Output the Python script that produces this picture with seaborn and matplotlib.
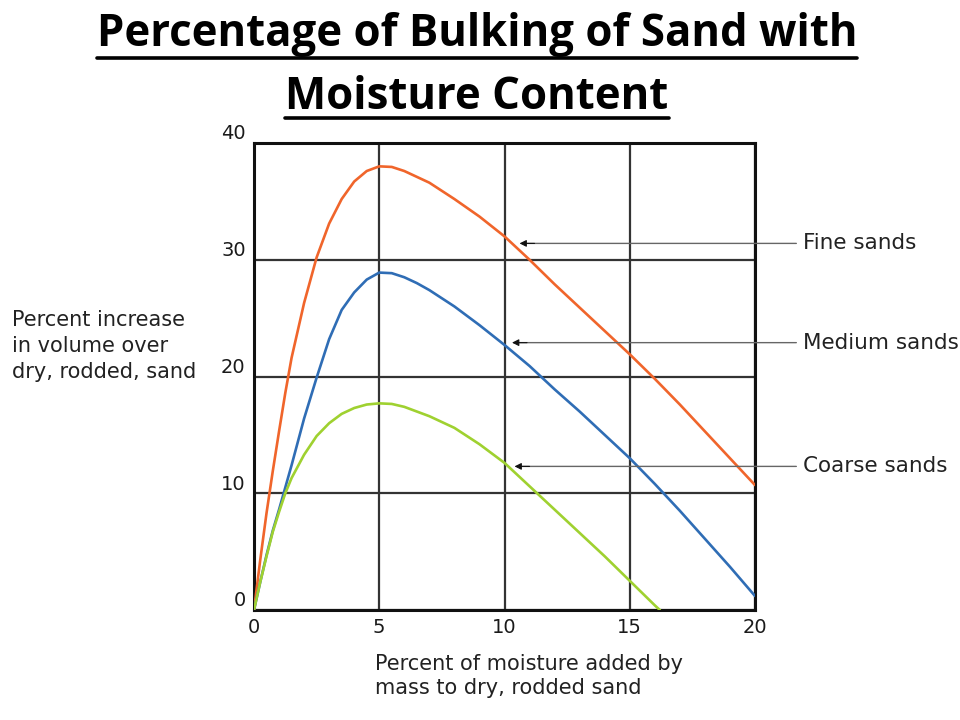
import numpy as np
import pandas as pd
import matplotlib
matplotlib.use("Agg")
import matplotlib.pyplot as plt
from matplotlib.lines import Line2D
import matplotlib.transforms as mtransforms
import seaborn as sns

# ---------------- data ----------------
moisture_fine = [0, 0.25, 0.5, 0.75, 1, 1.25, 1.5, 2, 2.5, 3, 3.5, 4, 4.5, 5, 5.5, 6, 6.5, 7, 8, 9,
                 10, 11, 12, 13, 14, 15, 16, 17, 18, 19, 20]
bulking_fine = [0, 4.3, 8.3, 11.9, 15.3, 18.6, 21.6, 26.3, 30.2, 33.1, 35.2, 36.7, 37.6, 38.0, 37.95,
                37.6, 37.1, 36.6, 35.2, 33.7, 32.0, 30.0, 27.9, 25.9, 23.9, 21.9, 19.8, 17.6, 15.3, 13.0, 10.7]

moisture_medium = [0, 0.25, 0.5, 0.75, 1, 1.25, 1.5, 2, 2.5, 3, 3.5, 4, 4.5, 5, 5.5, 6, 6.5, 7, 8, 9,
                   10, 11, 12, 13, 14, 15, 16, 17, 18, 19, 20]
bulking_medium = [0, 2.4, 4.7, 6.8, 8.6, 10.5, 12.4, 16.4, 19.9, 23.2, 25.7, 27.2, 28.3, 28.9, 28.85,
                  28.5, 28.0, 27.4, 26.0, 24.4, 22.7, 20.9, 18.9, 17.0, 15.0, 13.0, 10.8, 8.5, 6.1, 3.7, 1.2]

moisture_coarse = [0, 0.25, 0.5, 0.75, 1, 1.25, 1.5, 2, 2.5, 3, 3.5, 4, 4.5, 5, 5.5, 6, 6.5, 7, 8, 9,
                   10, 11, 12, 13, 14, 15, 16, 16.2]
bulking_coarse = [0, 2.4, 4.6, 6.7, 8.4, 10.0, 11.3, 13.3, 14.9, 16.0, 16.8, 17.3, 17.6, 17.7, 17.65,
                  17.4, 17.0, 16.6, 15.6, 14.2, 12.6, 10.6, 8.6, 6.6, 4.6, 2.5, 0.4, 0]

series_names = ["Fine sands", "Medium sands", "Coarse sands"]
x_ticks = [0, 5, 10, 15, 20]
y_ticks = [0, 10, 20, 30, 40]

title_lines = ["Percentage of Bulking of Sand with", "Moisture Content"]
y_label = "Percent increase\nin volume over\ndry, rodded, sand"
x_label = "Percent of moisture added by\nmass to dry, rodded sand"

# ---------------- build table ----------------
df = pd.concat([
    pd.DataFrame({"moisture": moisture_fine, "bulking": bulking_fine, "sand": series_names[0]}),
    pd.DataFrame({"moisture": moisture_medium, "bulking": bulking_medium, "sand": series_names[1]}),
    pd.DataFrame({"moisture": moisture_coarse, "bulking": bulking_coarse, "sand": series_names[2]}),
], ignore_index=True)

colors = {"Fine sands": "#F0652B", "Medium sands": "#2F6DB5", "Coarse sands": "#9FD130"}

sns.set_theme(style="white")
plt.rcParams["font.family"] = ["DejaVu Sans"]

fig = plt.figure(figsize=(9.6, 7.2), dpi=100)
ax = fig.add_axes([254 / 960, 1 - 610 / 720, (755 - 254) / 960, (610 - 143) / 720])

sns.lineplot(data=df, x="moisture", y="bulking", hue="sand", palette=colors,
             sort=False, estimator=None, linewidth=1.9, legend=False, ax=ax, zorder=3)

ax.set_xlim(0, 20)
ax.set_ylim(0, 40)
ax.set_xticks(x_ticks)
ax.set_yticks(y_ticks)
ax.set_xticklabels([str(v) for v in x_ticks], fontsize=14, color="#1a1a1a")
ax.set_yticklabels([str(v) for v in y_ticks], fontsize=14, color="#1a1a1a")
ax.tick_params(axis="both", length=0, pad=6)
ax.set_xlabel("")
ax.set_ylabel("")
# y tick labels sit slightly above their gridlines
offset = mtransforms.ScaledTranslation(0, 8 / 72, fig.dpi_scale_trans)
for lbl in ax.get_yticklabels():
    lbl.set_transform(lbl.get_transform() + offset)

ax.grid(True, color="#333333", linewidth=1.6)
ax.set_axisbelow(True)
for sp in ax.spines.values():
    sp.set_visible(True)
    sp.set_color("#111111")
    sp.set_linewidth(2.2)

# annotations with arrows: gray leader line + small black arrowhead
label_y = {"Fine sands": 31.4, "Medium sands": 22.9, "Coarse sands": 12.3}
arrow_tip = {"Fine sands": 10.6, "Medium sands": 10.3, "Coarse sands": 10.4}
for name in series_names:
    ax.annotate("", xy=(arrow_tip[name] + 0.3, label_y[name]), xytext=(21.65, label_y[name]),
                arrowprops=dict(arrowstyle="-", color="#666666", lw=1.0,
                                shrinkA=0, shrinkB=0),
                annotation_clip=False, zorder=4)
    ax.annotate("", xy=(arrow_tip[name], label_y[name]), xytext=(arrow_tip[name] + 0.6, label_y[name]),
                arrowprops=dict(arrowstyle="-|>", color="#111111", lw=0.8,
                                mutation_scale=10, shrinkA=0, shrinkB=0),
                annotation_clip=False, zorder=5)
    ax.text(21.9, label_y[name], name, fontsize=15.5, color="#222222",
            ha="left", va="center", clip_on=False)

# axis labels as free text
fig.text(12 / 960, 1 - 346 / 720, y_label, fontsize=15, color="#222222",
         ha="left", va="center", linespacing=1.35)
fig.text(375 / 960, 1 - 676 / 720, x_label, fontsize=15, color="#222222",
         ha="left", va="center", linespacing=1.3)

# title with underline
title_font = ["Open Sans", "DejaVu Sans"]
baselines = [46, 109]
underline_y = [57.5, 117.5]
fig.canvas.draw()
renderer = fig.canvas.get_renderer()
for line, base, uy in zip(title_lines, baselines, underline_y):
    t = fig.text(0.497, 1 - base / 720, line, fontsize=31.5, fontweight="bold",
                 family=title_font, ha="center", va="baseline", color="black")
    bb = t.get_window_extent(renderer=renderer)
    fig.add_artist(Line2D([bb.x0 / 960, bb.x1 / 960], [1 - uy / 720, 1 - uy / 720],
                          transform=fig.transFigure, color="black", linewidth=2.6))

fig.savefig("out.png", dpi=100)
